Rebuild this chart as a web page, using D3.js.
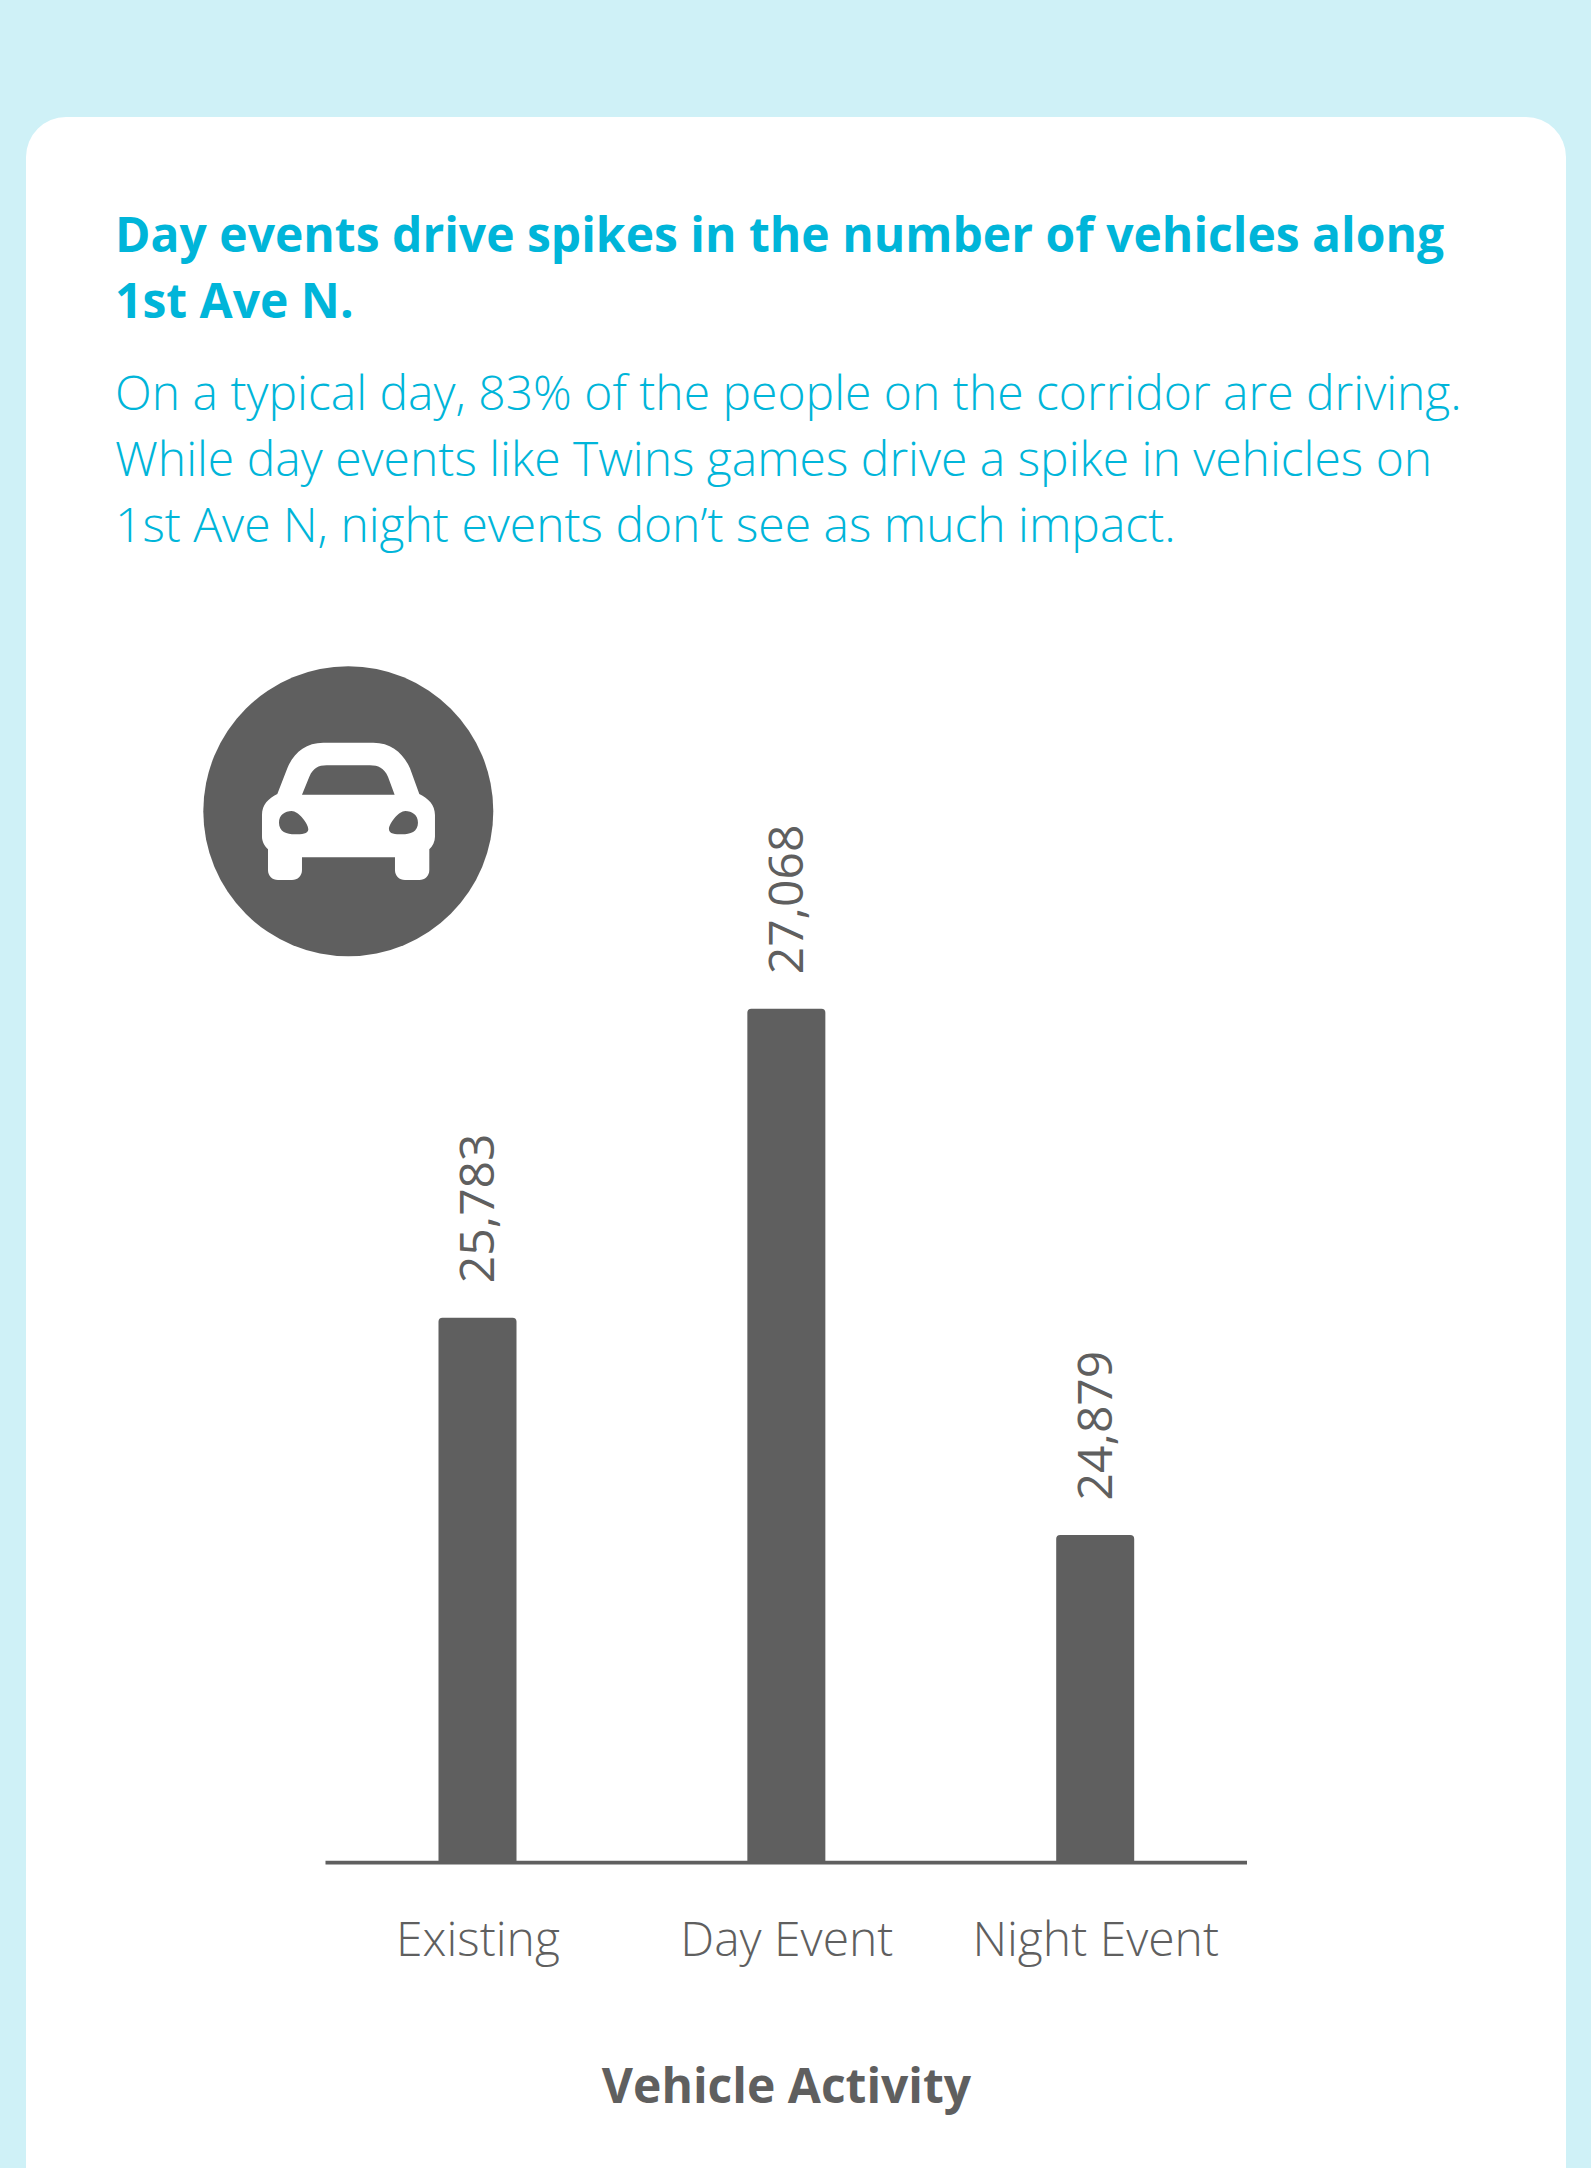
<!DOCTYPE html>
<html>
<head>
<meta charset="utf-8">
<script src="https://cdnjs.cloudflare.com/ajax/libs/d3/7.8.5/d3.min.js"></script>
<style>
  html, body { margin: 0; padding: 0; background: #cff1f7; }
  svg { display: block; }
  text { font-family: "Open Sans", sans-serif; }
</style>
</head>
<body>
<script>
// Vehicle counts per scenario
const categories = ["Existing", "Day Event", "Night Event"];
const vehicles = [25783, 27068, 24879];
const headline = ["Day events drive spikes in the number of vehicles along", "1st Ave N."];
const intro = [
  "On a typical day, 83% of the people on the corridor are driving.",
  "While day events like Twins games drive a spike in vehicles on",
  "1st Ave N, night events don\u2019t see as much impact."
];
const axisTitle = "Vehicle Activity";

const W = 1591, H = 2168;
const ink = "#5f5f5f", teal = "#00b5d9";

const svg = d3.select("body").append("svg").attr("width", W).attr("height", H);

// Page background and the white rounded card
svg.append("rect").attr("width", W).attr("height", H).attr("fill", "#cff1f7");
svg.append("rect").attr("x", 26).attr("y", 117).attr("width", 1540).attr("height", 2151)
  .attr("rx", 40).attr("fill", "#fff");

// Heading block
svg.selectAll("text.headline").data(headline).join("text").attr("class", "headline")
  .attr("x", 115).attr("y", (d, i) => 251.5 + i * 66)
  .attr("font-size", 48).attr("font-weight", 700).attr("fill", teal).text(d => d);
svg.selectAll("text.intro").data(intro).join("text").attr("class", "intro")
  .attr("x", 115).attr("y", (d, i) => 410 + i * 66)
  .attr("font-size", 48).attr("font-weight", 300).attr("fill", teal).text(d => d);

// Scales: the value axis starts well above zero, so differences read large
const x = d3.scalePoint().domain(categories).range([477.5, 1095.2]);
const y = d3.scaleLinear().domain([23518, 27068]).range([1862, 1008.8]);
const barW = 78;

// Bars, square at the base with slightly rounded tops
const barPath = d => {
  const l = x(d.cat) - barW / 2, r = l + barW, t = y(d.val), b = y.range()[0], c = 4;
  return `M${l},${b}V${t + c}Q${l},${t} ${l + c},${t}H${r - c}Q${r},${t} ${r},${t + c}V${b}Z`;
};
const rows = categories.map((cat, i) => ({ cat, val: vehicles[i] }));
svg.selectAll("path.bar").data(rows).join("path").attr("class", "bar")
  .attr("d", barPath).attr("fill", ink);

// Rotated value labels above each bar
svg.selectAll("text.value").data(rows).join("text").attr("class", "value")
  .attr("transform", d => `translate(${x(d.cat) + 16.5},${y(d.val) - 34.5}) rotate(-90)`)
  .attr("font-size", 48).attr("font-weight", 400).attr("fill", ink)
  .text(d => d3.format(",")(d.val));

// Baseline and category labels
const axis = d3.axisBottom(x).tickSize(0).tickPadding(0);
const gAxis = svg.append("g").attr("transform", "translate(0,1862)").call(axis);
gAxis.select(".domain").remove();
gAxis.selectAll("text")
  .attr("y", 94).attr("dy", 0)
  .attr("font-size", 48).attr("font-weight", 300).attr("fill", ink)
  .style("font-family", '"Open Sans", sans-serif');
svg.append("line").attr("x1", 325.5).attr("x2", 1247).attr("y1", 1862.6).attr("y2", 1862.6)
  .attr("stroke", ink).attr("stroke-width", 3.6);

svg.append("text").attr("x", 786.5).attr("y", 2103).attr("text-anchor", "middle")
  .attr("font-size", 48).attr("font-weight", 700).attr("fill", ink).text(axisTitle);

// Car badge
const carBody = "M430,308H580C635,308 670,340 690,385L718,462C745,475 765,495 765,525V590C765,605 758,618 748,628V690C748,708 735,720 718,720H675C658,720 645,708 645,690V652H366V690C366,708 353,720 336,720H294C277,720 264,708 264,690V628C254,618 246,605 246,590V525C246,495 265,475 292,462L322,385C340,340 375,308 430,308Z";
const carGlass = "M366,464L388,410C400,384 415,376 440,376H570C595,376 612,384 624,410L644,464Z";
const lampL = "M297,548C297,525 315,513 335,513C355,513 385,550 385,568C385,582 365,583 345,583C320,583 297,575 297,548Z";
const lampR = "M714,548C714,525 696,513 676,513C656,513 627,550 627,568C627,582 646,583 666,583C691,583 714,575 714,548Z";
svg.append("circle").attr("cx", 348.3).attr("cy", 811.3).attr("r", 145).attr("fill", ink);
const car = svg.append("g").attr("transform", "translate(180,640) scale(0.3333)");
car.append("path").attr("d", carBody).attr("fill", "#fff");
car.append("path").attr("d", carGlass + lampL + lampR).attr("fill", ink);
</script>
</body>
</html>
